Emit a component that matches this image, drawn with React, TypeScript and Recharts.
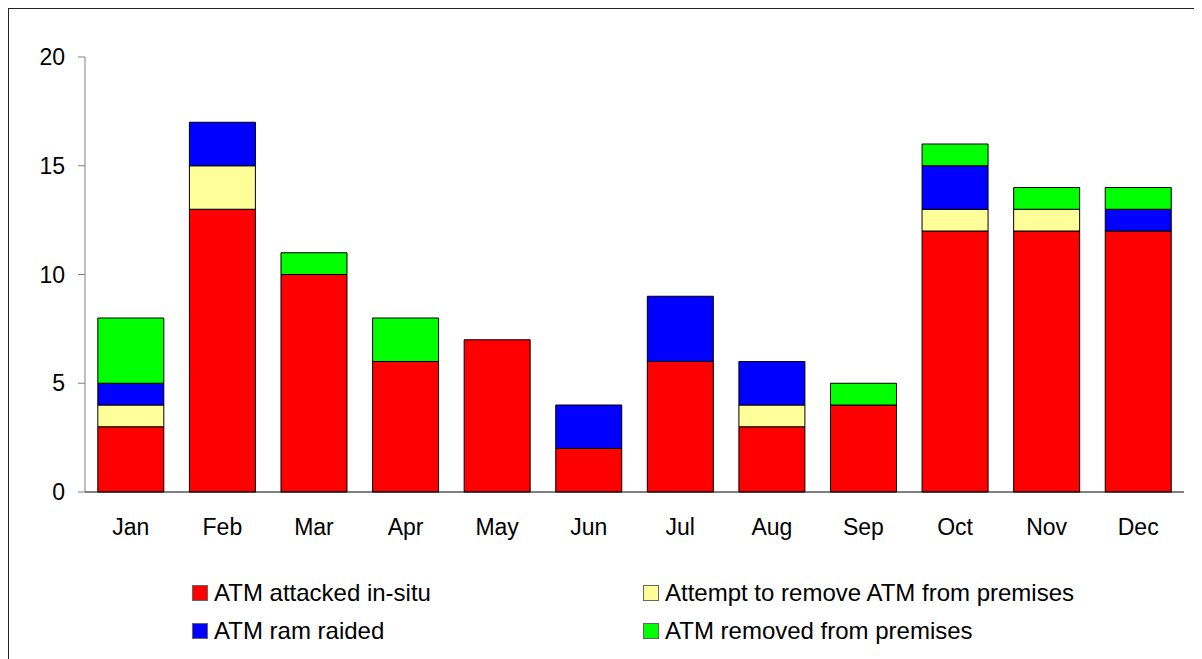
import React from 'react';
import { BarChart, Bar, XAxis, YAxis } from 'recharts';

const months = ['Jan', 'Feb', 'Mar', 'Apr', 'May', 'Jun', 'Jul', 'Aug', 'Sep', 'Oct', 'Nov', 'Dec'];
const attackedInSitu = [3, 13, 10, 6, 7, 2, 6, 3, 4, 12, 12, 12];
const attemptToRemove = [1, 2, 0, 0, 0, 0, 0, 1, 0, 1, 1, 0];
const ramRaided = [1, 2, 0, 0, 0, 2, 3, 2, 0, 2, 0, 1];
const removedFromPremises = [3, 0, 1, 2, 0, 0, 0, 0, 1, 1, 1, 1];
const yTicks = [0, 5, 10, 15, 20];

const series = [
  { key: 'insitu', name: 'ATM attacked in-situ', color: '#ff0000', values: attackedInSitu },
  { key: 'attempt', name: 'Attempt to remove ATM from premises', color: '#ffff99', values: attemptToRemove },
  { key: 'ram', name: 'ATM ram raided', color: '#0000ff', values: ramRaided },
  { key: 'removed', name: 'ATM removed from premises', color: '#00ff00', values: removedFromPremises },
];

const data = months.map((m, i) => {
  const row: Record<string, string | number> = { month: m };
  series.forEach((s) => {
    row[s.key] = s.values[i];
  });
  return row;
});

const FONT = '"Liberation Sans", Arial, sans-serif';

// legend slots: two columns, two rows
const legendPos = [
  { left: 184, top: 571 },
  { left: 635, top: 571 },
  { left: 184, top: 609 },
  { left: 635, top: 609 },
];

export default function App() {
  return (
    <div style={{ position: 'relative', width: 1194, height: 651, fontFamily: FONT }}>
      <style>{'body{overflow:hidden}'}</style>
      <div style={{ position: 'absolute', left: -1, top: -1, width: 1200, height: 2, background: '#222' }} />
      <div style={{ position: 'absolute', left: -1, top: -1, width: 2, height: 660, background: '#222' }} />
      <BarChart
        width={1194}
        height={651}
        data={data}
        margin={{ top: 49, right: 18, left: 0, bottom: 127 }}
        barCategoryGap="14%"
      >
        <XAxis
          dataKey="month"
          height={40}
          axisLine={{ stroke: '#000' }}
          tickLine={false}
          tickSize={0}
          tickMargin={27}
          tick={{ fill: '#000', fontSize: 23, fontFamily: FONT }}
        />
        <YAxis
          width={77}
          domain={[0, 20]}
          ticks={yTicks}
          interval={0}
          axisLine={{ stroke: '#808080' }}
          tickLine={{ stroke: '#808080' }}
          tickSize={7}
          tickMargin={13}
          tick={{ fill: '#000', fontSize: 23, fontFamily: FONT }}
        />
        {series.map((s) => (
          <Bar
            key={s.key}
            dataKey={s.key}
            name={s.name}
            stackId="a"
            fill={s.color}
            stroke="#000"
            strokeWidth={1}
            isAnimationActive={false}
          />
        ))}
      </BarChart>
      {series.map((s, i) => (
        <div
          key={s.key}
          style={{
            position: 'absolute',
            left: legendPos[i].left,
            top: legendPos[i].top,
            display: 'flex',
            alignItems: 'center',
            fontSize: 24,
            color: '#000',
            whiteSpace: 'nowrap',
          }}
        >
          <span
            style={{
              display: 'inline-block',
              width: 14,
              height: 14,
              background: s.color,
              border: '1px solid #666',
              marginRight: 6,
            }}
          />
          {s.name}
        </div>
      ))}
    </div>
  );
}
